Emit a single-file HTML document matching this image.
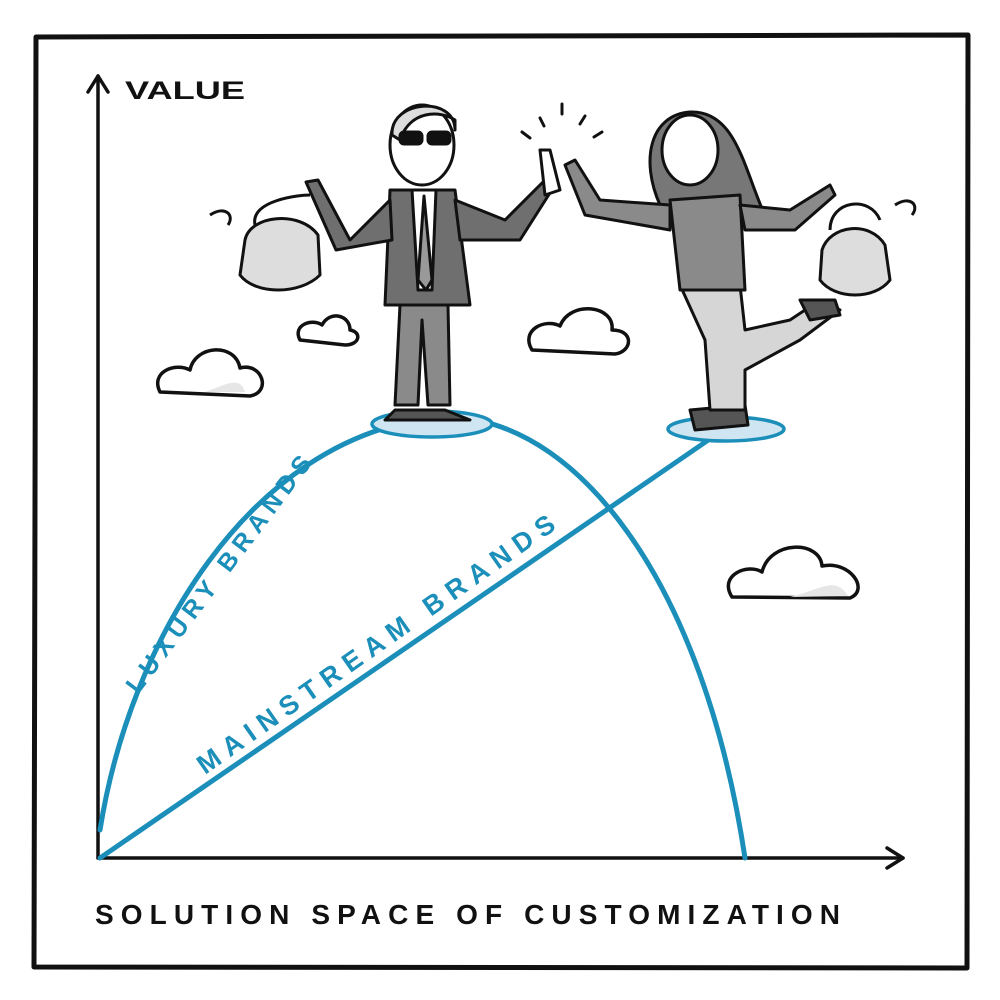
<!DOCTYPE html>
<html><head><meta charset="utf-8"><style>
html,body{margin:0;padding:0;background:#fff}
svg{display:block}
text{font-family:"Liberation Sans",sans-serif;font-weight:bold}
</style></head><body>
<svg width="1000" height="1000" viewBox="0 0 1000 1000" xmlns="http://www.w3.org/2000/svg">
<rect width="1000" height="1000" fill="#fff"/>
<path d="M36 37 L968 35 L967 968 L34 967 Z" fill="none" stroke="#111" stroke-width="5" stroke-linejoin="round"/>
<g stroke="#111" stroke-width="3.5" fill="none" stroke-linecap="round" stroke-linejoin="round">
<path d="M98 858 L98 76"/><path d="M88 92 L98 76 L108 92"/>
<path d="M98 858 L903 858"/><path d="M887 848 L903 858 L887 868"/>
</g>
<text x="125" y="99" font-size="25" fill="#111" textLength="120" lengthAdjust="spacingAndGlyphs">VALUE</text>
<text x="95" y="924" font-size="28" fill="#111" textLength="745" lengthAdjust="spacing">SOLUTION SPACE OF CUSTOMIZATION</text>
<g stroke="#1b8fb9" stroke-width="5" fill="none" stroke-linecap="round">
<path d="M100 830 C130 640 250 440 432 418 C560 405 700 560 745 858"/>
<path d="M100 858 L720 432"/>
</g>
<ellipse cx="432" cy="424" rx="60" ry="13" fill="#cfe6f2" stroke="#1b8fb9" stroke-width="3.5"/>
<ellipse cx="726" cy="429" rx="58" ry="12" fill="#cfe6f2" stroke="#1b8fb9" stroke-width="3.5"/>
<text font-size="25" fill="#1b8fb9" textLength="290" lengthAdjust="spacing" transform="translate(138 695) rotate(-53)">LUXURY BRANDS</text>
<text font-size="27" fill="#1b8fb9" textLength="430" lengthAdjust="spacing" transform="translate(205 775) rotate(-35)">MAINSTREAM BRANDS</text>
<g fill="#fff" stroke="#111" stroke-width="3.5" stroke-linejoin="round">
<path d="M160 392 C150 372 175 362 190 370 C195 345 235 342 240 368 C262 362 272 392 250 396 Z"/>
<path d="M300 340 C292 325 312 318 322 325 C330 310 350 315 350 330 C362 332 360 345 345 345 Z"/>
<path d="M532 350 C520 330 545 318 560 326 C570 300 615 305 612 330 C635 330 632 352 615 354 Z"/>
<path d="M732 597 C718 575 748 563 762 572 C770 540 820 540 822 566 C850 560 870 590 850 598 Z"/>
</g>
<g fill="#e6e6e6"><path d="M205 392 C225 385 240 375 245 392Z"/><path d="M790 597 C820 590 835 575 848 596Z"/></g>
<g stroke="#111" stroke-width="3" stroke-linejoin="round">
<path d="M395 410 L445 410 L470 420 L385 420 Z" fill="#555"/>
<path d="M400 305 L395 405 L418 405 L422 320 L428 405 L450 405 L448 305 Z" fill="#8a8a8a"/>
<path d="M390 190 L455 190 L470 305 L385 305 Z" fill="#6f6f6f"/>
<path d="M412 190 L436 190 L432 290 L418 290 Z" fill="#fff"/>
<path d="M424 196 L418 280 L426 290 L432 280 Z" fill="#999"/>
<path d="M390 200 L350 240 L318 180 L306 182 L336 250 L392 240 Z" fill="#6f6f6f"/>
<path d="M455 200 L505 220 L545 180 L555 185 L520 240 L460 240 Z" fill="#6f6f6f"/>
<path d="M540 150 L550 150 L560 190 L545 195 Z" fill="#fff"/>
<ellipse cx="422" cy="145" rx="32" ry="40" fill="#fff"/>
<path d="M392 135 C390 100 455 95 455 130 L455 120 C440 110 410 110 400 140 Z" fill="#ddd"/>
<rect x="400" y="132" width="22" height="12" rx="4" fill="#111"/><rect x="428" y="132" width="22" height="12" rx="4" fill="#111"/>
</g>
<g stroke="#111" stroke-width="3" stroke-linejoin="round">
<path d="M255 225 C250 200 300 195 310 195" fill="none"/>
<path d="M245 240 C250 215 300 210 318 235 L320 275 C300 295 255 295 240 275 Z" fill="#ddd"/>
<path d="M210 215 C225 205 235 215 228 225" fill="#fff"/>
</g>
<g stroke="#111" stroke-width="3" stroke-linejoin="round">
<path d="M690 410 L745 405 L748 425 L695 430 Z" fill="#555"/>
<path d="M680 285 L740 285 L745 330 L790 320 L820 300 L840 310 L800 340 L745 370 L745 410 L710 410 L705 340 Z" fill="#d6d6d6"/>
<path d="M800 300 L835 300 L840 315 L810 320 Z" fill="#555"/>
<path d="M660 205 C640 160 650 115 690 112 C740 110 745 180 770 225 L740 220 Z" fill="#777"/>
<path d="M670 200 L740 195 L745 290 L680 290 Z" fill="#8a8a8a"/>
<path d="M670 205 L600 200 L575 160 L565 165 L585 215 L670 230 Z" fill="#8a8a8a"/>
<path d="M740 205 L790 210 L830 185 L835 195 L795 230 L745 230 Z" fill="#8a8a8a"/>
<ellipse cx="690" cy="150" rx="28" ry="35" fill="#fff"/>
</g>
<g stroke="#111" stroke-width="3" stroke-linejoin="round">
<path d="M830 230 C830 200 870 195 880 220" fill="none"/>
<path d="M822 250 C830 225 870 220 885 245 L890 280 C875 300 835 300 820 280 Z" fill="#ddd"/>
<path d="M895 205 C910 195 920 205 912 215" fill="#fff"/>
</g>
<g stroke="#111" stroke-width="3" stroke-linecap="round">
<path d="M522 132 L530 138"/><path d="M540 118 L544 126"/><path d="M562 104 L562 114"/><path d="M585 116 L580 124"/><path d="M602 132 L594 137"/>
</g>
</svg>
</body></html>
